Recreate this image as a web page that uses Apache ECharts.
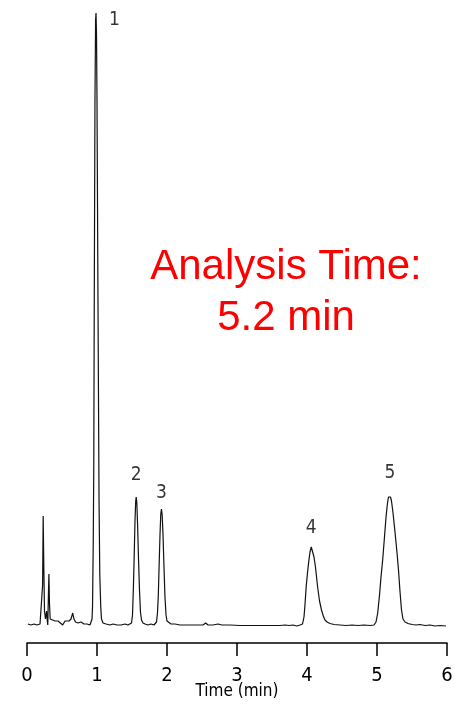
<!DOCTYPE html>
<html>
<head>
<meta charset="utf-8">
<style>
  html, body { margin: 0; padding: 0; background: #fff; }
  #main { width: 455px; height: 705px; }
</style>
<script src="https://cdn.jsdelivr.net/npm/echarts@6/dist/echarts.min.js"></script>
</head>
<body>
<div id="main"></div>
<script>
// retention time (min) and detector signal
var timeMin = [
  0.014, 0.057, 0.100, 0.143, 0.186, 0.214, 0.223, 0.231, 0.240, 0.250,
  0.264, 0.280, 0.290, 0.297, 0.306, 0.313, 0.321, 0.331, 0.357, 0.400,
  0.443, 0.471, 0.510, 0.543, 0.571, 0.600, 0.629, 0.653, 0.671, 0.693,
  0.729, 0.771, 0.814, 0.857, 0.900,
  0.914, 0.929, 0.936, 0.946, 0.954, 0.961, 0.971, 0.980, 0.986, 0.993,
  1.000, 1.014, 1.029, 1.040, 1.053, 1.064, 1.086, 1.129, 1.186, 1.229,
  1.257, 1.286, 1.343, 1.400, 1.443, 1.471,
  1.493, 1.507, 1.519, 1.529, 1.543, 1.553, 1.560, 1.569, 1.580, 1.594,
  1.607, 1.621, 1.636, 1.657, 1.686, 1.729, 1.771, 1.814, 1.836,
  1.850, 1.864, 1.876, 1.886, 1.900, 1.911, 1.921, 1.931, 1.943, 1.957,
  1.971, 1.986, 2.000, 2.021, 2.057, 2.114, 2.186, 2.271, 2.357, 2.443,
  2.514, 2.553, 2.586, 2.657, 2.729, 2.786, 2.900, 3.043, 3.186, 3.329,
  3.471, 3.614, 3.686, 3.743, 3.800, 3.857, 3.900,
  3.936, 3.957, 3.971, 3.989, 4.007, 4.024, 4.043, 4.061, 4.079, 4.100,
  4.121, 4.150, 4.179, 4.207, 4.233, 4.257, 4.286, 4.329, 4.386, 4.471,
  4.557, 4.643, 4.729, 4.814, 4.900,
  4.957, 4.986, 5.010, 5.036, 5.057, 5.081, 5.107, 5.129, 5.150, 5.164,
  5.176, 5.193, 5.207, 5.229, 5.257, 5.286, 5.307, 5.329, 5.350, 5.371,
  5.400, 5.443, 5.500, 5.557, 5.614, 5.686, 5.757, 5.829, 5.900, 5.986
];
var signal = [
  1, 0, 1, 0, 1, 1, 40, 109, 60, 14,
  6, 14, 4, 0, 30, 51, 22, 6, 6, 4,
  4, 2, 0, 4, 5, 4, 6, 12, 6, 3,
  2, 3, 1, 1, 0,
  1, 6, 18, 80, 160, 325, 525, 605, 612, 590,
  525, 325, 125, 50, 19, 6, 2, 1, 0, 1,
  3, 0, 0, 1, 0, 0,
  2, 10, 35, 62, 105, 124, 128, 122, 100, 64,
  35, 13, 5, 2, 1, 0, 1, 0, 0,
  3, 12, 30, 56, 90, 111, 116, 110, 90, 58,
  28, 10, 4, 2, 1, 1, 0, 0, 0, 0,
  0, 2, 0, 0, 1, 0, 0, -0.5, -0.5, -0.5,
  -0.5, -0.5, 0, -0.5, 0, -1, 0,
  1, 8, 20, 39, 52, 63, 73, 78, 76, 68,
  58, 39, 24, 15, 9, 5, 3, 1.5, 0.5, 0,
  -0.5, 0, -0.5, 0, -0.5,
  0, 3, 12, 30, 48, 65, 88, 108, 122, 128,
  130, 128, 124, 112, 93, 72, 55, 33, 15, 6,
  3, 1.5, 0.5, 0, 0.5, -0.5, 0, -1, -0.5, -1
];

// peak numbers and where their labels sit
var peakIds = ['1', '2', '3', '4', '5'];
var peakLabelTime = [1.25, 1.56, 1.921, 4.06, 5.186];
var peakLabelLevel = [605, 150, 132, 97, 152];

var narrowFont = '"Liberation Sans Narrow", "Arial Narrow", "DejaVu Sans Condensed", sans-serif';
var redFont = '42px "Liberation Sans", Arial, sans-serif';

var myChart = echarts.init(document.getElementById('main'));

var trace = [];
for (var i = 0; i < timeMin.length; i++) {
  trace.push([timeMin[i], signal[i]]);
}
var peakLabels = [];
for (var j = 0; j < peakIds.length; j++) {
  peakLabels.push({ name: peakIds[j], value: [peakLabelTime[j], peakLabelLevel[j]] });
}

var option = {
  animation: false,
  backgroundColor: '#fff',
  grid: { left: 27, right: 8, top: 12, bottom: 62, outerBoundsMode: 'none' },
  xAxis: {
    type: 'value',
    min: 0,
    max: 6,
    interval: 1,
    name: 'Time (min)',
    nameLocation: 'middle',
    nameGap: 40,
    nameMoveOverlap: false,
    nameTextStyle: { fontFamily: narrowFont, fontSize: 17, color: '#000' },
    axisLine: { onZero: false, lineStyle: { color: '#000', width: 1.5 } },
    axisTick: { length: 13, lineStyle: { color: '#000', width: 1.5 } },
    axisLabel: { margin: 23, fontFamily: narrowFont, fontSize: 20, color: '#000' },
    splitLine: { show: false }
  },
  yAxis: {
    type: 'value',
    min: -18,
    max: 613,
    show: false
  },
  series: [
    {
      type: 'line',
      data: trace,
      showSymbol: false,
      symbol: 'none',
      clip: false,
      lineStyle: { color: '#111', width: 1.2 }
    },
    {
      type: 'scatter',
      data: peakLabels,
      symbolSize: 0,
      itemStyle: { color: 'rgba(0,0,0,0)' },
      label: {
        show: true,
        position: 'inside',
        formatter: '{b}',
        fontFamily: narrowFont,
        fontSize: 19,
        color: '#000',
        textBorderWidth: 0
      }
    }
  ],
  graphic: [
    {
      type: 'text',
      x: 286, y: 267,
      style: { text: 'Analysis Time:', font: redFont, fill: '#ff0000', align: 'center', verticalAlign: 'middle' }
    },
    {
      type: 'text',
      x: 286, y: 318,
      style: { text: '5.2 min', font: redFont, fill: '#ff0000', align: 'center', verticalAlign: 'middle' }
    }
  ]
};

myChart.setOption(option);
</script>
</body>
</html>
